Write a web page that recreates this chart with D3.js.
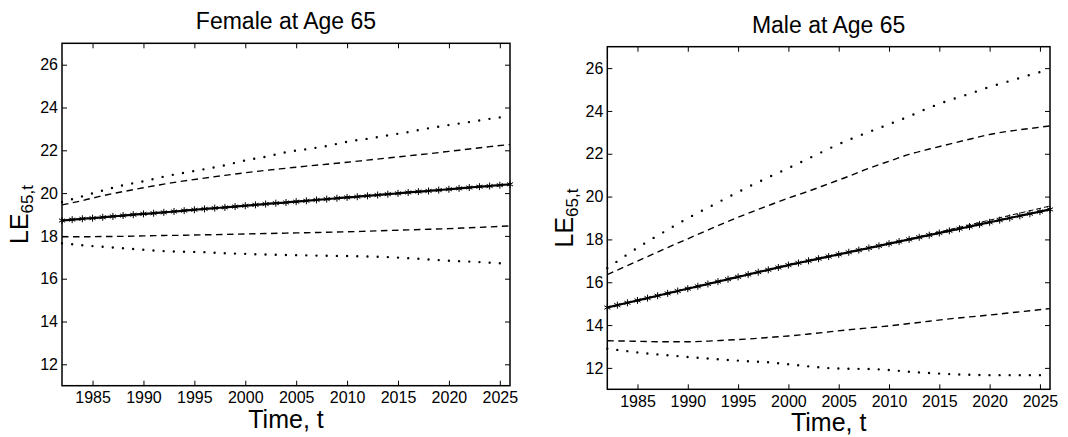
<!DOCTYPE html>
<html>
<head>
<meta charset="utf-8">
<script src="https://cdn.jsdelivr.net/npm/d3@7"></script>
<style>
  html, body { margin: 0; padding: 0; background: #fff; }
  svg { display: block; font-family: "Liberation Sans", Arial, Helvetica, sans-serif; }
</style>
</head>
<body>
<svg id="chart" width="1068" height="437"></svg>
<script>
// Years for the central path (annual) and for the interval bands (every two years)
const annualYears = d3.range(1982, 2027);
const bandYears = d3.range(1982, 2027, 2);

// Tick values shared by both panels
const xTickYears = [1985, 1990, 1995, 2000, 2005, 2010, 2015, 2020, 2025];
const yTickValues = [12, 14, 16, 18, 20, 22, 24, 26];

// ---- Female, age 65 ----
const femaleCentral = [
  18.72, 18.76, 18.80, 18.83, 18.87, 18.91, 18.95, 18.99, 19.03, 19.06,
  19.10, 19.14, 19.18, 19.22, 19.26, 19.30, 19.33, 19.37, 19.41, 19.45,
  19.49, 19.53, 19.56, 19.60, 19.64, 19.68, 19.72, 19.76, 19.80, 19.83,
  19.87, 19.91, 19.95, 19.99, 20.03, 20.07, 20.10, 20.14, 20.18, 20.22,
  20.26, 20.30, 20.33, 20.37, 20.41
];
const femaleMean = [
  18.72, 18.80, 18.87, 18.95, 19.03, 19.10, 19.18, 19.26, 19.33, 19.41,
  19.49, 19.56, 19.64, 19.72, 19.80, 19.87, 19.95, 20.03, 20.11, 20.19,
  20.27, 20.35, 20.43
];
const femaleUpper80 = [
  19.45, 19.65, 19.88, 20.07, 20.25, 20.42, 20.57, 20.70, 20.83, 20.95,
  21.06, 21.16, 21.26, 21.35, 21.44, 21.54, 21.64, 21.74, 21.84, 21.95,
  22.06, 22.17, 22.27
];
const femaleLower80 = [
  17.96, 17.96, 17.97, 17.98, 18.00, 18.02, 18.03, 18.05, 18.07, 18.09,
  18.11, 18.13, 18.15, 18.17, 18.19, 18.22, 18.25, 18.28, 18.31, 18.34,
  18.38, 18.42, 18.47
];
const femaleUpper95 = [
  19.58, 19.85, 20.12, 20.37, 20.55, 20.77, 20.95, 21.12, 21.30, 21.53,
  21.70, 21.91, 22.05, 22.20, 22.40, 22.54, 22.70, 22.85, 23.03, 23.18,
  23.32, 23.47, 23.60
];
const femaleLower95 = [
  17.66, 17.56, 17.49, 17.42, 17.35, 17.29, 17.26, 17.24, 17.19, 17.16,
  17.13, 17.11, 17.09, 17.07, 17.06, 17.04, 17.01, 16.96, 16.90, 16.84,
  16.80, 16.75, 16.70
];

// ---- Male, age 65 ----
const maleCentral = [
  14.82, 14.93, 15.04, 15.15, 15.26, 15.37, 15.48, 15.59, 15.70, 15.81,
  15.92, 16.03, 16.14, 16.25, 16.36, 16.47, 16.58, 16.69, 16.80, 16.90,
  17.00, 17.10, 17.20, 17.30, 17.40, 17.50, 17.60, 17.70, 17.80, 17.90,
  18.00, 18.10, 18.20, 18.30, 18.40, 18.50, 18.60, 18.70, 18.80, 18.90,
  19.00, 19.10, 19.20, 19.30, 19.40
];
const maleMean = [
  14.82, 15.04, 15.26, 15.48, 15.70, 15.92, 16.14, 16.36, 16.58, 16.80,
  17.00, 17.20, 17.40, 17.60, 17.80, 18.02, 18.24, 18.46, 18.68, 18.90,
  19.12, 19.34, 19.56
];
const maleUpper80 = [
  16.36, 16.78, 17.20, 17.62, 18.03, 18.44, 18.84, 19.22, 19.58, 19.93,
  20.25, 20.60, 20.95, 21.32, 21.65, 21.97, 22.22, 22.45, 22.68, 22.90,
  23.06, 23.18, 23.30
];
const maleLower80 = [
  13.27, 13.25, 13.23, 13.22, 13.22, 13.25, 13.30, 13.35, 13.42, 13.49,
  13.58, 13.68, 13.78, 13.87, 13.96, 14.07, 14.18, 14.29, 14.38, 14.47,
  14.57, 14.67, 14.77
];
const maleUpper95 = [
  16.65, 17.30, 17.90, 18.45, 18.99, 19.48, 19.97, 20.45, 20.90, 21.33,
  21.78, 22.23, 22.65, 23.02, 23.38, 23.75, 24.15, 24.50, 24.80, 25.12,
  25.40, 25.68, 25.95
];
const maleLower95 = [
  12.90, 12.78, 12.67, 12.59, 12.51, 12.44, 12.37, 12.31, 12.26, 12.17,
  12.07, 11.99, 11.96, 11.95, 11.90, 11.82, 11.76, 11.71, 11.68, 11.66,
  11.66, 11.66, 11.66
];

const svg = d3.select("#chart");

function drawPanel(p) {
  const x = d3.scaleLinear().domain([1982, 2026]).range([p.left, p.right]);
  const y = d3.scaleLinear().domain([11, 27]).range([p.bottom, p.top]);
  const g = svg.append("g");

  const line = d3.line()
    .x(d => x(d[0]))
    .y(d => y(d[1]))
    .curve(d3.curveMonotoneX);

  const pairs = (years, vals) => years.map((t, i) => [t, vals[i]]);

  // Dotted outer band: one dot per year along the path
  [p.upper95, p.lower95].forEach(vals => {
    const path = g.append("path")
      .attr("d", line(pairs(bandYears, vals)))
      .attr("fill", "none")
      .attr("stroke", "#000")
      .attr("stroke-width", 2.4)
      .attr("stroke-linecap", "round");
    const len = path.node().getTotalLength();
    const gap = len / (bandYears[bandYears.length - 1] - bandYears[0]);
    path.attr("stroke-dasharray", `0 ${gap}`);
  });

  // Dashed inner band
  [p.upper80, p.lower80].forEach(vals => {
    g.append("path")
      .attr("d", line(pairs(bandYears, vals)))
      .attr("fill", "none")
      .attr("stroke", "#000")
      .attr("stroke-width", 1.4)
      .attr("stroke-dasharray", "6.5 4.5");
  });

  // Thin dashed mean path
  g.append("path")
    .attr("d", line(pairs(bandYears, p.mean)))
    .attr("fill", "none")
    .attr("stroke", "#000")
    .attr("stroke-width", 1)
    .attr("stroke-dasharray", "5 3");

  // Central solid path with star markers each year
  const central = pairs(annualYears, p.central);
  g.append("path")
    .attr("d", line(central))
    .attr("fill", "none")
    .attr("stroke", "#000")
    .attr("stroke-width", 2.2);

  const star = d3.symbol(d3.symbolAsterisk || d3.symbolCross, 34);
  g.selectAll("path.star")
    .data(central)
    .join("path")
    .attr("class", "star")
    .attr("d", star)
    .attr("transform", d => `translate(${x(d[0])},${y(d[1])})`)
    .attr("fill", "none")
    .attr("stroke", "#000")
    .attr("stroke-width", 1);

  // Axes with inward ticks on all four sides
  const tickFont = sel => sel.selectAll("text")
    .attr("font-size", 16)
    .attr("fill", "#000");

  const yAxisLeft = d3.axisLeft(y).tickValues(yTickValues).tickSize(-5).tickSizeOuter(0).tickPadding(4);
  g.append("g").attr("transform", `translate(${p.left},0)`).call(yAxisLeft)
    .call(a => a.select(".domain").remove())
    .call(tickFont);

  const yAxisRight = d3.axisRight(y).tickValues(yTickValues).tickSize(-5).tickSizeOuter(0).tickFormat("");
  g.append("g").attr("transform", `translate(${p.right},0)`).call(yAxisRight)
    .call(a => a.select(".domain").remove());

  const xAxisBottom = d3.axisBottom(x).tickValues(xTickYears).tickSize(-5).tickSizeOuter(0)
    .tickPadding(6).tickFormat(d3.format("d"));
  g.append("g").attr("transform", `translate(0,${p.bottom})`).call(xAxisBottom)
    .call(a => a.select(".domain").remove())
    .call(tickFont);

  const xAxisTop = d3.axisTop(x).tickValues(xTickYears).tickSize(-5).tickSizeOuter(0).tickFormat("");
  g.append("g").attr("transform", `translate(0,${p.top})`).call(xAxisTop)
    .call(a => a.select(".domain").remove());

  g.selectAll(".tick line").attr("stroke", "#000").attr("stroke-width", 1);

  // Plot frame
  g.append("rect")
    .attr("x", p.left).attr("y", p.top)
    .attr("width", p.right - p.left).attr("height", p.bottom - p.top)
    .attr("fill", "none").attr("stroke", "#000").attr("stroke-width", 1.5);

  const cx = (p.left + p.right) / 2;

  // Title
  g.append("text")
    .attr("x", cx).attr("y", p.top - 14)
    .attr("text-anchor", "middle")
    .attr("font-size", 23)
    .attr("fill", "#000")
    .text(p.title);

  // X axis label
  g.append("text")
    .attr("x", cx).attr("y", p.bottom + 42)
    .attr("text-anchor", "middle")
    .attr("font-size", 25)
    .attr("fill", "#000")
    .text("Time, t");

  // Y axis label: LE with subscript 65,t
  const cy = (p.top + p.bottom) / 2;
  const yl = g.append("text")
    .attr("transform", `translate(${p.left - 34},${cy}) rotate(-90)`)
    .attr("text-anchor", "middle")
    .attr("font-size", 25)
    .attr("fill", "#000");
  yl.append("tspan").text("LE");
  yl.append("tspan").attr("font-size", 17).attr("dy", 5).text("65,t");
}

drawPanel({
  title: "Female at Age 65",
  left: 62, right: 510, top: 43.3, bottom: 385.7,
  central: femaleCentral, mean: femaleMean,
  upper80: femaleUpper80, lower80: femaleLower80,
  upper95: femaleUpper95, lower95: femaleLower95
});

drawPanel({
  title: "Male at Age 65",
  left: 607.3, right: 1050, top: 46.7, bottom: 389.3,
  central: maleCentral, mean: maleMean,
  upper80: maleUpper80, lower80: maleLower80,
  upper95: maleUpper95, lower95: maleLower95
});
</script>
</body>
</html>
